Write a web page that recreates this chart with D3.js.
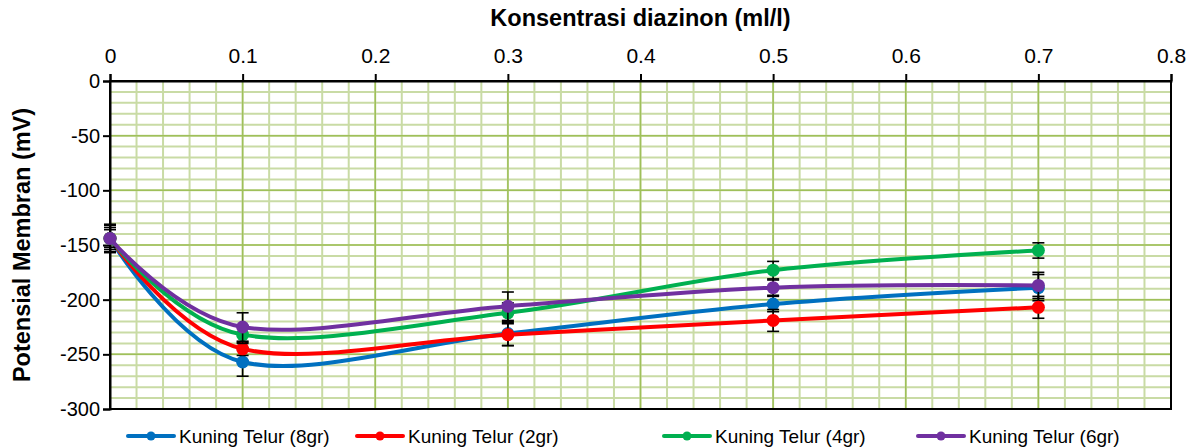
<!DOCTYPE html>
<html>
<head>
<meta charset="utf-8">
<script src="https://cdn.jsdelivr.net/npm/d3@7"></script>
<style>
  body { margin: 0; background: #fff; }
  svg text { font-family: Arial, "Liberation Sans", sans-serif; fill: #000; }
</style>
</head>
<body>
<svg id="chart" width="1194" height="448"></svg>
<script>
(function() {
    // Data
    const concentrations = [0, 0.1, 0.3, 0.5, 0.7];
    const seriesNames = ["Kuning Telur (8gr)", "Kuning Telur (2gr)", "Kuning Telur (4gr)", "Kuning Telur (6gr)"];
    const seriesColors = ["#0070c0", "#ff0000", "#00b050", "#7030a0"];
    const values8gr = [-144, -257, -231, -204, -189];
    const values2gr = [-144, -245, -232, -219, -207];
    const values4gr = [-144, -232, -212, -173, -155];
    const values6gr = [-144, -225, -206, -189, -187];
    const errors8gr = [13, 13, 11, 7, 12];
    const errors2gr = [10, 6, 10, 10, 10];
    const errors4gr = [8, 8, 9, 8, 7];
    const errors6gr = [12, 13, 13, 7, 12];
    const xTicks = [0, 0.1, 0.2, 0.3, 0.4, 0.5, 0.6, 0.7, 0.8];
    const yTicks = [0, -50, -100, -150, -200, -250, -300];

    const seriesValues = [values8gr, values2gr, values4gr, values6gr];
    const seriesErrors = [errors8gr, errors2gr, errors4gr, errors6gr];

    const svg = d3.select("#chart");
    const margin = { left: 110, right: 23, top: 81, bottom: 39 };
    const width = 1194, height = 448;

    const x = d3.scaleLinear().domain([0, 0.8]).range([margin.left, width - margin.right]);
    const y = d3.scaleLinear().domain([-300, 0]).range([height - margin.bottom, margin.top]);

    // Gridlines: minor first, then major
    const gGrid = svg.append("g").attr("class", "grid");
    const xMinor = d3.range(0, 41).map(i => i * 0.02);
    const yMinor = d3.range(-300, 1, 10);

    gGrid.selectAll(".vminor")
        .data(xMinor)
        .join("line")
        .attr("x1", d => x(d)).attr("x2", d => x(d))
        .attr("y1", y(0)).attr("y2", y(-300))
        .attr("stroke", "#c9dba5").attr("stroke-width", 2);

    gGrid.selectAll(".hminor")
        .data(yMinor)
        .join("line")
        .attr("x1", x(0)).attr("x2", x(0.8))
        .attr("y1", d => y(d)).attr("y2", d => y(d))
        .attr("stroke", "#c9dba5").attr("stroke-width", 2);

    gGrid.selectAll(".vmajor")
        .data(xTicks)
        .join("line")
        .attr("class", "vmajor")
        .attr("x1", d => x(d)).attr("x2", d => x(d))
        .attr("y1", y(0)).attr("y2", y(-300))
        .attr("stroke", "#9fc05a").attr("stroke-width", 1.5);

    gGrid.selectAll(".hmajor")
        .data(yTicks)
        .join("line")
        .attr("class", "hmajor")
        .attr("x1", x(0)).attr("x2", x(0.8))
        .attr("y1", d => y(d)).attr("y2", d => y(d))
        .attr("stroke", "#9fc05a").attr("stroke-width", 1.5);

    // Plot border
    svg.append("rect")
        .attr("x", x(0)).attr("y", y(0))
        .attr("width", x(0.8) - x(0)).attr("height", y(-300) - y(0))
        .attr("fill", "none").attr("stroke", "#000").attr("stroke-width", 2);

    // Axes
    const xAxis = d3.axisTop(x).tickValues(xTicks).tickFormat(d => d === 0 ? "0" : d3.format(".1f")(d)).tickSize(7).tickPadding(11);
    const gx = svg.append("g").attr("transform", `translate(0,${y(0)})`).call(xAxis);
    gx.select(".domain").attr("stroke", "#000").attr("stroke-width", 2);
    gx.selectAll(".tick line").attr("stroke", "#000").attr("stroke-width", 2);
    gx.selectAll(".tick text").attr("font-size", 21).attr("font-family", "Arial, 'Liberation Sans', sans-serif");

    const yAxis = d3.axisLeft(y).tickValues(yTicks).tickSize(7).tickPadding(3);
    const gy = svg.append("g").attr("transform", `translate(${x(0)},0)`).call(yAxis);
    gy.select(".domain").attr("stroke", "#000").attr("stroke-width", 2);
    gy.selectAll(".tick line").attr("stroke", "#000").attr("stroke-width", 2);
    gy.selectAll(".tick text").attr("font-size", 20).attr("font-family", "Arial, 'Liberation Sans', sans-serif")
        .text(d => d3.format("d")(d).replace("\u2212", "-"));

    // Axis titles
    svg.append("text")
        .attr("x", (x(0) + x(0.8)) / 2).attr("y", 26)
        .attr("text-anchor", "middle")
        .attr("font-size", 23.5).attr("font-weight", "bold")
        .text("Konsentrasi diazinon (ml/l)");

    svg.append("text")
        .attr("transform", `translate(30,${(y(0) + y(-300)) / 2}) rotate(-90)`)
        .attr("text-anchor", "middle")
        .attr("font-size", 23.5).attr("font-weight", "bold")
        .text("Potensial Membran (mV)");

    // Series
    const line = d3.line()
        .x(d => x(d.x))
        .y(d => y(d.y))
        .curve(d3.curveCardinal.tension(0));

    const gSeries = svg.append("g").attr("class", "series");
    seriesValues.forEach((vals, si) => {
        const pts = vals.map((v, i) => ({ x: concentrations[i], y: v, e: seriesErrors[si][i] }));
        const g = gSeries.append("g");

        g.append("path")
            .datum(pts)
            .attr("d", line)
            .attr("fill", "none")
            .attr("stroke", seriesColors[si])
            .attr("stroke-width", 4)
            .attr("stroke-linecap", "round");

        // Error bars
        const eb = g.selectAll(".err")
            .data(pts)
            .join("g")
            .attr("class", "err")
            .attr("stroke", "#000")
            .attr("stroke-width", 1.6);
        eb.append("line")
            .attr("x1", d => x(d.x)).attr("x2", d => x(d.x))
            .attr("y1", d => y(d.y + d.e)).attr("y2", d => y(d.y - d.e));
        eb.append("line")
            .attr("x1", d => x(d.x) - 6).attr("x2", d => x(d.x) + 6)
            .attr("y1", d => y(d.y + d.e)).attr("y2", d => y(d.y + d.e));
        eb.append("line")
            .attr("x1", d => x(d.x) - 6).attr("x2", d => x(d.x) + 6)
            .attr("y1", d => y(d.y - d.e)).attr("y2", d => y(d.y - d.e));

        g.selectAll("circle")
            .data(pts)
            .join("circle")
            .attr("cx", d => x(d.x))
            .attr("cy", d => y(d.y))
            .attr("r", 6.5)
            .attr("fill", seriesColors[si]);
    });

    // Legend
    const legendX = [128, 357, 664, 918];
    const legendY = 436;
    const gLegend = svg.append("g").attr("class", "legend");
    seriesNames.forEach((name, i) => {
        const lg = gLegend.append("g").attr("transform", `translate(${legendX[i]},${legendY})`);
        lg.append("line")
            .attr("x1", 0).attr("x2", 46)
            .attr("y1", 0).attr("y2", 0)
            .attr("stroke", seriesColors[i]).attr("stroke-width", 4)
            .attr("stroke-linecap", "round");
        lg.append("circle").attr("cx", 23).attr("cy", 0).attr("r", 4.5).attr("fill", seriesColors[i]);
        lg.append("text")
            .attr("x", 51).attr("y", 7)
            .attr("font-size", 19)
            .text(name);
    });
})();
</script>
</body>
</html>
